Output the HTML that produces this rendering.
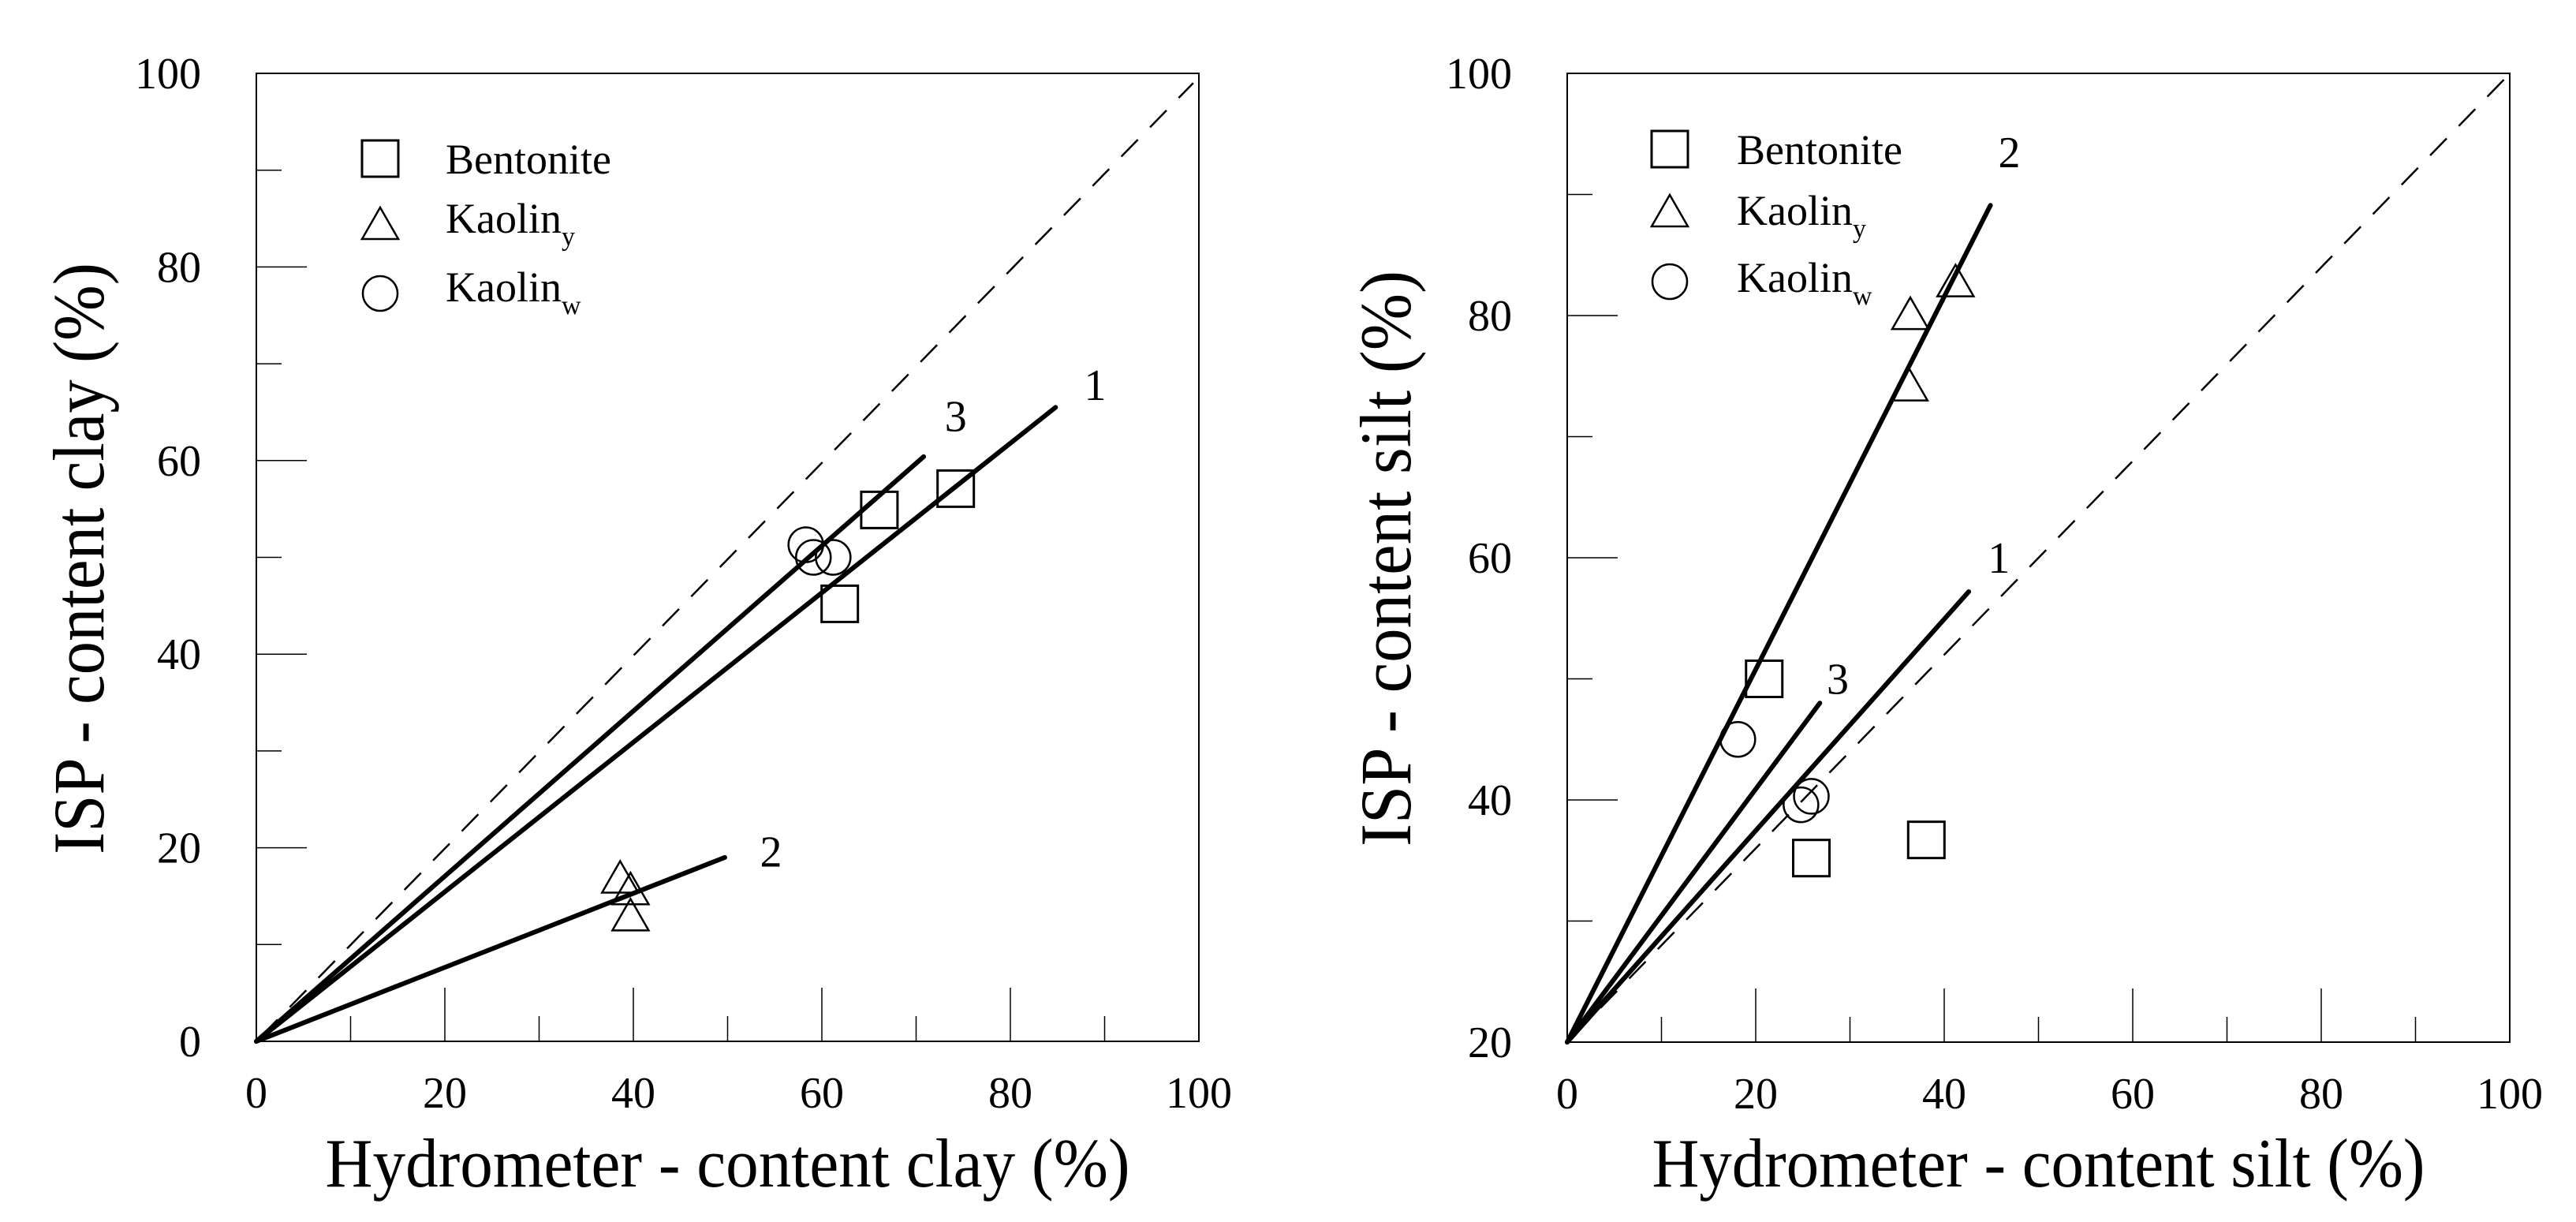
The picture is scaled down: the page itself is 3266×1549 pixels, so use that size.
<!DOCTYPE html>
<html><head><meta charset="utf-8"><style>
html,body{margin:0;padding:0;background:#fff;}
svg, svg text{font-family:"Liberation Serif","Times New Roman",serif;}
</style></head><body>
<svg id="chart" width="3266" height="1544" viewBox="0 0 3266 1544" xmlns="http://www.w3.org/2000/svg"></svg>
<script>
// ---- Left panel (clay) data ----
const clayBentoniteX = [66.1, 74.2, 61.9];
const clayBentoniteY = [54.9, 57.1, 45.2];
const clayKaolinYX = [38.6, 39.7, 39.7];
const clayKaolinYY = [16.5, 15.3, 12.6];
const clayKaolinWX = [58.3, 59.1, 61.2];
const clayKaolinWY = [51.3, 50.0, 50.0];
const clayLineNames = ["1", "3", "2"];
const clayLineEndX = [84.8, 70.8, 49.7];
const clayLineEndY = [65.5, 60.4, 19.0];
const clayLabelX = [89, 74.2, 54.6];
const clayLabelY = [67.8, 64.6, 19.6];
// ---- Right panel (silt) data ----
const siltBentoniteX = [20.9, 25.9, 38.1];
const siltBentoniteY = [50.0, 35.2, 36.7];
const siltKaolinYX = [36.4, 41.2, 36.3];
const siltKaolinYY = [79.8, 82.5, 73.9];
const siltKaolinWX = [18.1, 24.8, 25.9];
const siltKaolinWY = [45.0, 39.6, 40.3];
const siltLineNames = ["2", "1", "3"];
const siltLineEndX = [44.9, 42.6, 26.8];
const siltLineEndY = [89.1, 57.2, 48.0];
const siltLabelX = [46.9, 45.8, 28.7];
const siltLabelY = [93.5, 60.0, 50.0];
const xTicks = [0, 20, 40, 60, 80, 100];
const clayYTicks = [0, 20, 40, 60, 80, 100];
const siltYTicks = [20, 40, 60, 80, 100];

const NS = "http://www.w3.org/2000/svg";
const FONT = "'Liberation Serif', 'Times New Roman', serif";
const svg = document.getElementById("chart");
function mk(tag, attrs, parent) {
  const e = document.createElementNS(NS, tag);
  for (const k in attrs) e.setAttribute(k, attrs[k]);
  if (tag === "text") e.setAttribute("font-family", FONT);
  (parent || svg).appendChild(e);
  return e;
}

function panel(cfg) {
  const g = mk("g", {});
  
  
  const L = cfg.left, R = cfg.right, T = cfg.top, B = cfg.bottom;
  const sx = v => L + (v - 0) / 100 * (R - L);
  const sy = v => B - (v - cfg.ymin) / (cfg.ymax - cfg.ymin) * (B - T);
  const fr = mk("rect", {x: L, y: T, width: R - L, height: B - T, fill: "none", stroke: "#000", "stroke-width": 2}, g);
  
  
  for (let v = 10; v < 100; v += 10) {
    const major = v % 20 === 0;
    const t = mk("line", {x1: sx(v), x2: sx(v), y1: B, y2: B - (major ? 68 : 32), stroke: "#000", "stroke-width": 1.5}, g);
    
    
  }
  for (let v = cfg.ymin + 10; v < cfg.ymax; v += 10) {
    const major = v % 20 === 0;
    const t = mk("line", {x1: L, x2: L + (major ? 64 : 32), y1: sy(v), y2: sy(v), stroke: "#000", "stroke-width": 1.5}, g);
    
    
  }
  xTicks.forEach(v => {
    const t = mk("text", {x: sx(v), y: B + 84, "font-size": 56, "text-anchor": "middle"}, g);
    t.textContent = v;
    
    
  });
  cfg.yTicks.forEach(v => {
    const t = mk("text", {x: L - 70, y: sy(v) + 19, "font-size": 56, "text-anchor": "end"}, g);
    t.textContent = v;
    
    
  });
  const d = mk("line", {x1: sx(0.5), y1: sy(cfg.ymin === 0 ? 0.5 : 20.4), x2: sx(99.4), y2: sy(cfg.ymin === 0 ? 99 : 99.5), stroke: "#000", "stroke-width": 2.5, "stroke-dasharray": "30 22"}, g);
  
  
  cfg.lineEndX.forEach((ex, i) => {
    const l = mk("line", {x1: sx(0), y1: sy(cfg.ymin), x2: sx(ex), y2: sy(cfg.lineEndY[i]), stroke: "#000", "stroke-width": 6, "stroke-linecap": "round"}, g);
    
    
    const t = mk("text", {x: sx(cfg.labelX[i]), y: sy(cfg.labelY[i]) + 19, "font-size": 56, "text-anchor": "middle"}, g);
    t.textContent = cfg.lineNames[i];
    
    
  });
  function square(cx, cy, name) {
    const e = mk("rect", {x: cx - 23, y: cy - 23, width: 46, height: 46, fill: "none", stroke: "#000", "stroke-width": 3}, g);
    
    
  }
  function tri(cx, cy, name) {
    const e = mk("polygon", {points: `${cx},${cy - 26} ${cx - 23},${cy + 14} ${cx + 23},${cy + 14}`, fill: "none", stroke: "#000", "stroke-width": 2.5}, g);
    
    
  }
  function circ(cx, cy, name) {
    const e = mk("circle", {cx: cx, cy: cy, r: 22, fill: "none", stroke: "#000", "stroke-width": 2.5}, g);
    
    
  }
  cfg.bx.forEach((v, i) => square(sx(v), sy(cfg.by[i]), 'bentonite-point'));
  cfg.tx.forEach((v, i) => tri(sx(v), sy(cfg.ty[i]), 'kaolin-y-point'));
  cfg.cx.forEach((v, i) => circ(sx(v), sy(cfg.cy[i]), 'kaolin-w-point'));
  const lg = cfg.legend;
  square(lg.mx, lg.y[0], 'legend-bentonite-marker');
  tri(lg.mx, lg.y[1], 'legend-kaolin-y-marker');
  circ(lg.mx, lg.y[2], 'legend-kaolin-w-marker');
  const names = [["Bentonite", ""], ["Kaolin", "y"], ["Kaolin", "w"]];
  names.forEach((n, i) => {
    const t = mk("text", {x: lg.tx, y: lg.base[i], "font-size": 54}, g);
    
    
    t.appendChild(document.createTextNode(n[0]));
    if (n[1]) {
      const s = mk("tspan", {"font-size": 34, dy: 16}, t);
      s.textContent = n[1];
    }
  });
  const xt = mk("text", {x: (L + R) / 2, y: 1504, "font-size": 88, "text-anchor": "middle", textLength: cfg.xTitleLen, lengthAdjust: "spacingAndGlyphs"}, g);
  xt.textContent = cfg.xTitle;
  
  
  const yt = mk("text", {x: 0, y: 0, "font-size": 92, "text-anchor": "middle", transform: `translate(${cfg.yTitleX},${cfg.yTitleY}) rotate(-90)`, textLength: cfg.yTitleLen, lengthAdjust: "spacingAndGlyphs"}, g);
  yt.textContent = cfg.yTitle;
  
  
}

panel({name: "clay-panel", left: 325, right: 1520, top: 93, bottom: 1320, ymin: 0, ymax: 100,
  yTicks: clayYTicks, bx: clayBentoniteX, by: clayBentoniteY, tx: clayKaolinYX, ty: clayKaolinYY,
  cx: clayKaolinWX, cy: clayKaolinWY, lineNames: clayLineNames, lineEndX: clayLineEndX, lineEndY: clayLineEndY,
  labelX: clayLabelX, labelY: clayLabelY,
  legend: {mx: 482, y: [201, 289, 372], tx: 565, base: [220, 295, 382]},
  xTitle: "Hydrometer - content clay (%)", xTitleLen: 1020,
  yTitle: "ISP - content clay (%)", yTitleX: 131, yTitleY: 708, yTitleLen: 750});

panel({name: "silt-panel", left: 1987, right: 3182, top: 93, bottom: 1321, ymin: 20, ymax: 100,
  yTicks: siltYTicks, bx: siltBentoniteX, by: siltBentoniteY, tx: siltKaolinYX, ty: siltKaolinYY,
  cx: siltKaolinWX, cy: siltKaolinWY, lineNames: siltLineNames, lineEndX: siltLineEndX, lineEndY: siltLineEndY,
  labelX: siltLabelX, labelY: siltLabelY,
  legend: {mx: 2117, y: [189, 273, 357], tx: 2202, base: [208, 285, 370]},
  xTitle: "Hydrometer - content silt (%)", xTitleLen: 980,
  yTitle: "ISP - content silt (%)", yTitleX: 1788, yTitleY: 708, yTitleLen: 730});
</script>
</body></html>
